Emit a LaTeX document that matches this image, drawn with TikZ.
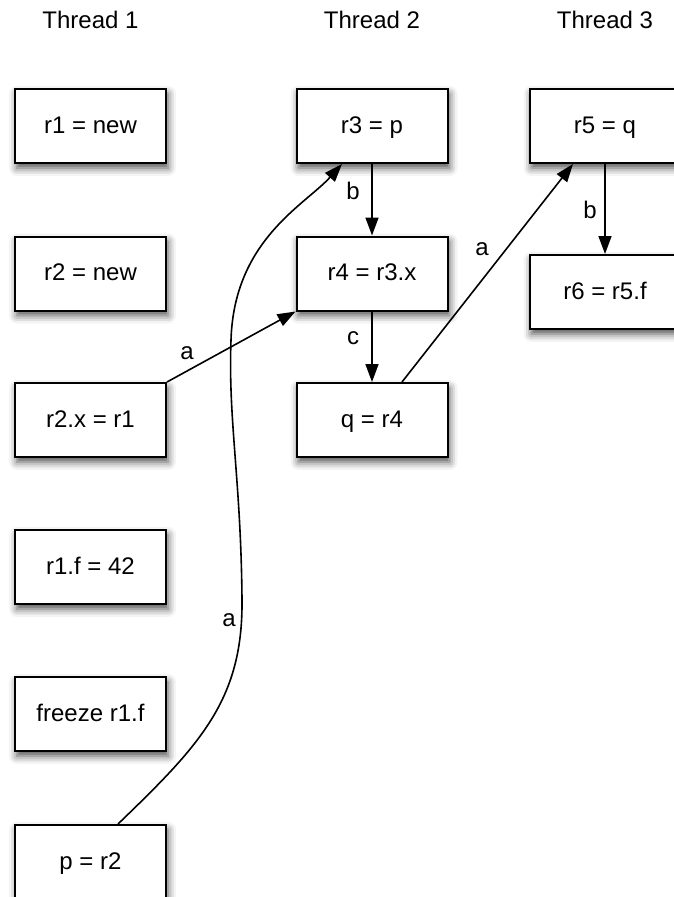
\documentclass[tikz,border=0pt]{standalone}
\usepackage{fontspec}
\setmainfont{Liberation Sans}
\usepackage{tikz}
\usetikzlibrary{arrows.meta,shadows.blur}

\tikzset{
  stmt/.style={draw, line width=2pt, fill=white, minimum width=151pt, minimum height=74pt,
    inner sep=0pt, text height=17pt, text depth=3pt,
    blur shadow={shadow xshift=2pt, shadow yshift=-5pt, shadow blur radius=8pt, shadow opacity=70}},
  hb/.style={line width=1.6pt, -{Triangle[length=18pt, width=13pt]}},
  lbl/.style={inner sep=0pt}
}

\begin{document}
\begin{tikzpicture}[x=1pt, y=-1pt, font=\fontsize{24}{28}\selectfont]
\useasboundingbox (0,0) rectangle (673,897);

% thread titles
\node (t1) at (90.5,20) {Thread 1};
\node (t2) at (372,20) {Thread 2};
\node (t3) at (605,20) {Thread 3};

% Thread 1
\node[stmt] (r1) at (90.5,126) {r1 = new};
\node[stmt] (r2) at (90.5,273.5) {r2 = new};
\node[stmt] (r2x) at (90.5,420) {r2.x = r1};
\node[stmt] (r1f) at (90.5,567) {r1.f = 42};
\node[stmt] (frz) at (90.5,714) {freeze r1.f};
\node[stmt] (p) at (90.5,862) {p = r2};

% Thread 2
\node[stmt] (r3) at (372,126) {r3 = p};
\node[stmt] (r4) at (372,273.5) {r4 = r3.x};
\node[stmt] (q) at (372,420) {q = r4};

% Thread 3
\node[stmt] (r5) at (605,126) {r5 = q};
\node[stmt] (r6) at (605,292) {r6 = r5.f};

% program order
\draw[hb] (r3) -- (r4);
\draw[hb] (r4) -- (q);
\draw[hb] (r5) -- (r6);
\node[lbl] (lb1) at (353,191) {b};
\node[lbl] (lc) at (353,338) {c};
\node[lbl] (lb2) at (590,210) {b};

% cross-thread edges
\draw[hb] (r2x.north east) -- (r4.south west);
\node[lbl] (la1) at (187,353) {a};
\draw[hb] ([xshift=30pt]q.north) -- ([xshift=-32pt]r5.south);
\node[lbl] (la2) at (482,249) {a};
\draw[hb] ([xshift=27.5pt]p.north) .. controls (200,745) and (243,700) .. (242,600)
  .. controls (241,480) and (228,420) .. (231,340)
  .. controls (234,240) and (305,205) .. ([xshift=-30pt]r3.south);
\node[lbl] (la3) at (229,620) {a};
\end{tikzpicture}
\end{document}
